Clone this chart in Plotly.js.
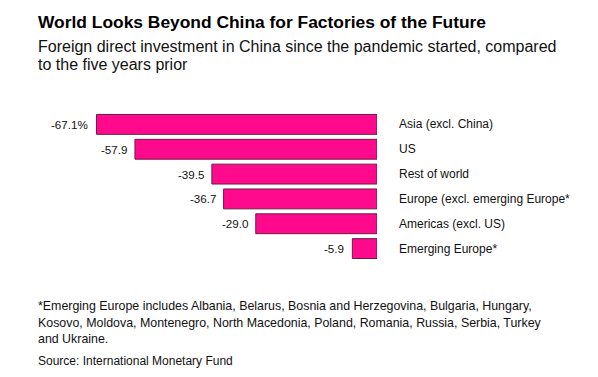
<!DOCTYPE html>
<html>
<head>
<meta charset="utf-8">
<script src="https://cdn.plot.ly/plotly-3.0.1.min.js"></script>
<style>
  html, body { margin: 0; padding: 0; background: #ffffff; }
  #chart { width: 598px; height: 377px; }
</style>
</head>
<body>
<div id="chart"></div>
<script>
// ---- Data ----
const categories = [
  "Asia (excl. China)",
  "US",
  "Rest of world",
  "Europe (excl. emerging Europe*",
  "Americas (excl. US)",
  "Emerging Europe*"
];
const values = [-67.1, -57.9, -39.5, -36.7, -29.0, -5.9];
const valueLabels = ["-67.1%", "-57.9", "-39.5", "-36.7", "-29.0", "-5.9"];

const titleText = "World Looks Beyond China for Factories of the Future";
const subtitleLines = [
  "Foreign direct investment in China since the pandemic started, compared",
  "to the five years prior"
];
const footnoteLines = [
  "*Emerging Europe includes Albania, Belarus, Bosnia and Herzegovina, Bulgaria, Hungary,",
  "Kosovo, Moldova, Montenegro, North Macedonia, Poland, Romania, Russia, Serbia, Turkey",
  "and Ukraine."
];
const sourceText = "Source: International Monetary Fund";

// ---- Layout helpers ----
const W = 598, H = 377;
const M = { l: 76, r: 221, t: 112, b: 116 };
const PW = W - M.l - M.r, PH = H - M.t - M.b;
const px = x => (x - M.l) / PW;
const py = y => (H - M.b - y) / PH;
const FONT = "Liberation Sans, Arial, Helvetica, sans-serif";

const annotations = [];

function textAnn(text, x, y, size, color, bold) {
  annotations.push({
    text: bold ? "<b>" + text + "</b>" : text,
    xref: "paper", yref: "paper",
    x: px(x), y: py(y),
    xanchor: "left", yanchor: "middle",
    showarrow: false,
    font: { family: FONT, size: size, color: color }
  });
}

textAnn(titleText, 36, 22, 17.4, "#000000", true);
textAnn(subtitleLines[0], 36, 46, 16, "#111111", false);
textAnn(subtitleLines[1], 36, 64, 16, "#111111", false);
footnoteLines.forEach((t, i) => textAnn(t, 36, 306 + i * 16.5, 12.4, "#111111", false));
textAnn(sourceText, 36, 361, 12, "#111111", false);

// category labels on the right
categories.forEach(c => {
  annotations.push({
    text: c, xref: "paper", yref: "y",
    x: 1, y: c, xshift: 20,
    xanchor: "left", yanchor: "middle",
    showarrow: false,
    font: { family: FONT, size: 12, color: "#111111" }
  });
});

// value labels left of bars
categories.forEach((c, i) => {
  annotations.push({
    text: valueLabels[i], xref: "x", yref: "y",
    x: values[i], y: c, xshift: -6,
    xanchor: "right", yanchor: "middle",
    showarrow: false,
    font: { family: FONT, size: 11.6, color: "#111111" }
  });
});

const trace = {
  type: "bar",
  orientation: "h",
  x: values,
  y: categories,
  marker: { color: "#ff0a8c", line: { color: "#6e1a45", width: 1 } },
  hoverinfo: "none"
};

const layout = {
  width: W, height: H,
  margin: M,
  paper_bgcolor: "#ffffff",
  plot_bgcolor: "#ffffff",
  showlegend: false,
  bargap: 0.2,
  font: { family: FONT, color: "#111111" },
  xaxis: {
    range: [-72, 0],
    showgrid: false, zeroline: false, showline: false,
    showticklabels: false, ticks: ""
  },
  yaxis: {
    type: "category",
    autorange: "reversed",
    showgrid: false, zeroline: false, showline: false,
    showticklabels: false, ticks: ""
  },
  annotations: annotations
};

Plotly.newPlot("chart", [trace], layout, { displayModeBar: false, staticPlot: true });
</script>
</body>
</html>
